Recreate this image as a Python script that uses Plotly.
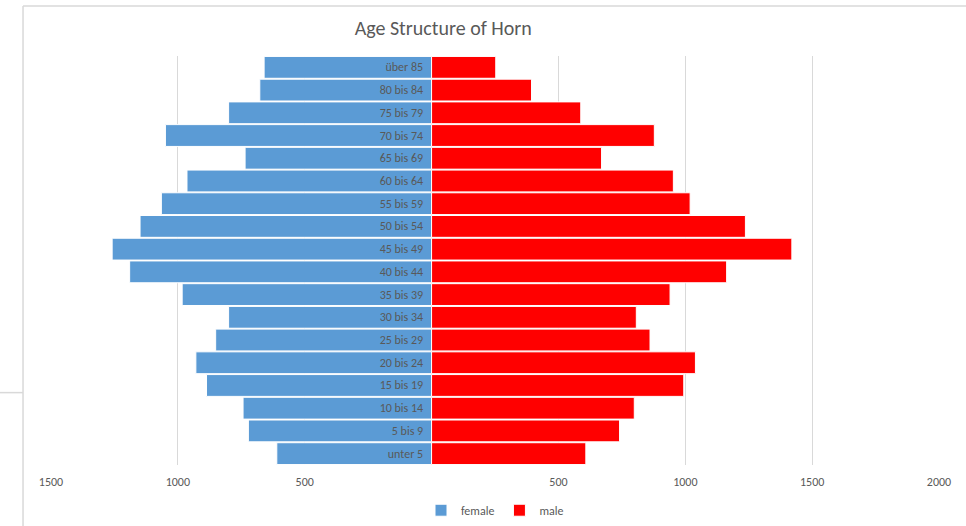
import plotly.graph_objects as go

AGE_GROUPS = [
    "über 85", "80 bis 84", "75 bis 79", "70 bis 74", "65 bis 69", "60 bis 64",
    "55 bis 59", "50 bis 54", "45 bis 49", "40 bis 44", "35 bis 39", "30 bis 34",
    "25 bis 29", "20 bis 24", "15 bis 19", "10 bis 14", "5 bis 9", "unter 5",
]
FEMALE = [660, 677, 800, 1049, 735, 964, 1065, 1149, 1259, 1190,
          983, 800, 851, 929, 887, 743, 722, 610]
MALE = [253, 394, 588, 878, 670, 953, 1019, 1237, 1420, 1163,
        940, 807, 861, 1040, 994, 799, 741, 608]

TICK_VALS = [-1500, -1000, -500, 500, 1000, 1500, 2000]
TICK_TEXT = ["1500", "1000", "500", "500", "1000", "1500", "2000"]

FONT = "Carlito, Calibri, 'Liberation Sans Narrow', 'Open Sans', sans-serif"
GREY = "#595959"
BORDER = "#d9d9d9"

fig = go.Figure()
fig.add_trace(go.Bar(
    y=AGE_GROUPS, x=[-v for v in FEMALE], name="female", orientation="h",
    marker=dict(color="#5B9BD5", line=dict(color="white", width=1)),
    text=AGE_GROUPS, texttemplate="%{text}\u00a0\u00a0",
    textposition="inside", insidetextanchor="start",
    textangle=0, constraintext="none",
    insidetextfont=dict(family=FONT, size=12, color=GREY),
))
fig.add_trace(go.Bar(
    y=AGE_GROUPS, x=MALE, name="male", orientation="h",
    marker=dict(color="#FF0000", line=dict(color="white", width=1)),
))

# outer chart frame (paper coords relative to plot area)
for x0, y0, x1, y1 in [(-0.0315, 1.122, -0.0315, -0.2),
                       (-0.0315, 1.122, 1.1, 1.122),
                       (-0.0575, 0.177, -0.0315, 0.177)]:
    fig.add_shape(type="line", xref="paper", yref="paper",
                  x0=x0, y0=y0, x1=x1, y1=y1,
                  line=dict(color=BORDER, width=1.5))

fig.update_layout(
    width=966, height=526,
    margin=dict(l=51, r=27, t=56, b=61, autoexpand=False),
    paper_bgcolor="white", plot_bgcolor="white",
    barmode="relative", bargap=0.04,
    font=dict(family=FONT, size=12, color=GREY),
    title=dict(text="Age Structure of Horn", x=0.4417, xanchor="center",
               xref="paper", y=0.947, yanchor="middle",
               font=dict(size=20, color=GREY)),
    legend=dict(orientation="h", x=0.5, xanchor="center",
                yref="container", y=0.03, yanchor="middle",
                font=dict(size=12, color=GREY),
                itemwidth=30, traceorder="normal"),
    xaxis=dict(range=[-1500, 2000], tickvals=TICK_VALS, ticktext=TICK_TEXT,
               showgrid=True, gridcolor=BORDER, gridwidth=1,
               zeroline=False, showline=False, ticks="", automargin=False,
               ticklabelstandoff=8,
               tickfont=dict(size=12, color=GREY)),
    yaxis=dict(autorange="reversed", showticklabels=False, showgrid=False,
               zeroline=False, showline=False, automargin=False),
)

fig.write_html("out.html", config={"displayModeBar": False},
               post_script="document.body.style.margin='0';")
